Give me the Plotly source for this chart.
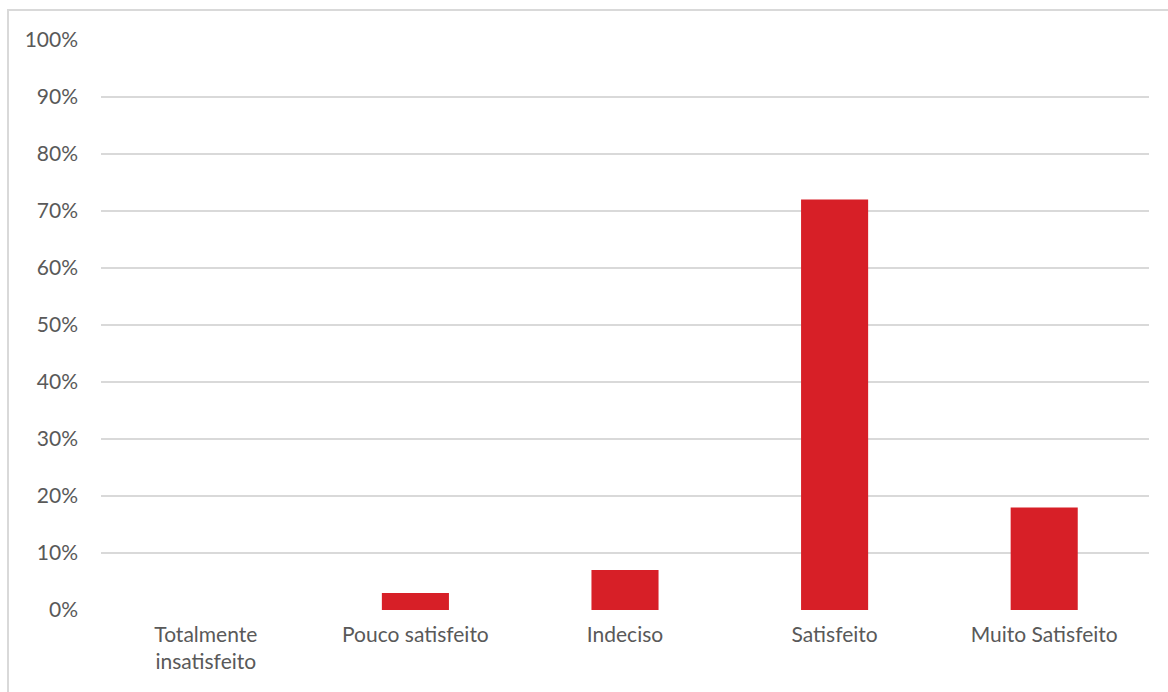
import plotly.graph_objects as go

categories = ["Totalmente<br>insatisfeito", "Pouco satisfeito", "Indeciso", "Satisfeito", "Muito Satisfeito"]
shares = [0.0, 0.03, 0.07, 0.72, 0.18]
tick_values = [i / 10 for i in range(11)]
tick_labels = [f"{i * 10}%" for i in range(11)]

W, H = 1168, 692
ml, mr, mt, mb = 101, 19, 40, 82
pw, ph = W - ml - mr, H - mt - mb

fig = go.Figure(
    go.Bar(
        x=categories,
        y=shares,
        marker=dict(color="#d71f27", line=dict(width=0)),
        width=0.32,
    )
)

# outer chart frame (light gray, running past the right and bottom edges)
fig.add_shape(
    type="rect",
    xref="paper", yref="paper",
    x0=(8 - ml) / pw, x1=(W + 10 - ml) / pw,
    y0=-(H + 10 - mt - ph) / ph, y1=(mt + ph - 10) / ph,
    line=dict(color="#d9d9d9", width=2),
    fillcolor="rgba(0,0,0,0)",
    layer="below",
)

fig.update_layout(
    width=W, height=H,
    margin=dict(l=ml, r=mr, t=mt, b=mb),
    paper_bgcolor="white",
    plot_bgcolor="white",
    font=dict(family="Lato, 'Open Sans', sans-serif", size=21, color="#595959"),
    showlegend=False,
    bargap=0.68,
)
fig.update_xaxes(
    showgrid=False, zeroline=False, showline=False,
    ticks="", ticklabelstandoff=10,
    tickfont=dict(size=21, color="#595959"),
)
fig.update_yaxes(
    range=[0, 1.0],
    tickvals=tick_values, ticktext=tick_labels,
    showgrid=True, gridcolor="#d9d9d9", gridwidth=1.6,
    zeroline=False, showline=False, ticks="",
    ticklabelstandoff=22,
    tickfont=dict(size=21, color="#595959"),
)

fig.write_html("out.html")
